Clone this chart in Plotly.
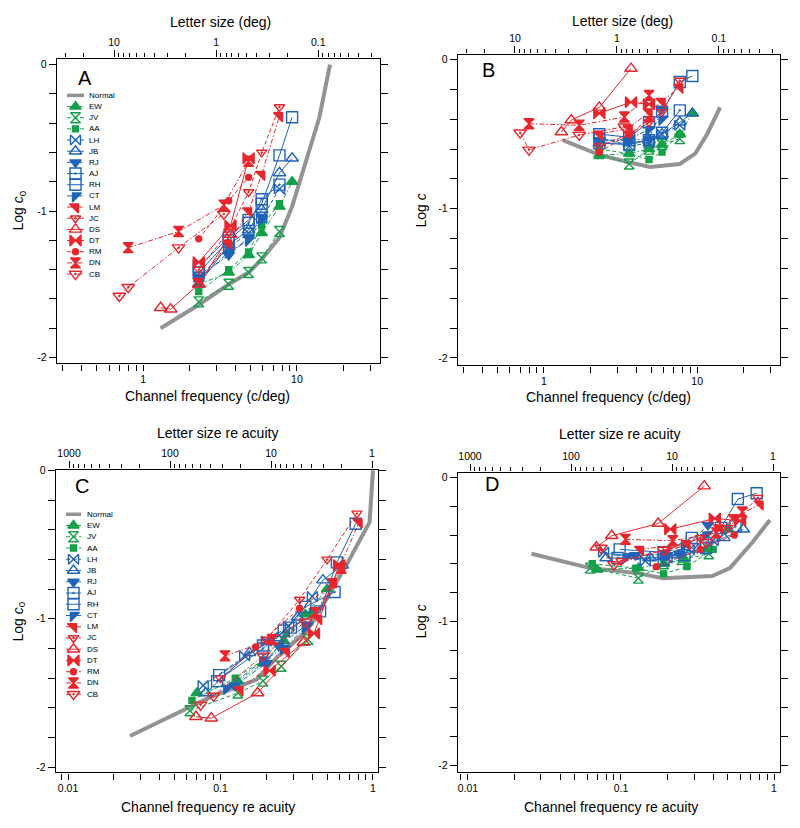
import plotly.graph_objects as go

# screenshot size and page margin (the html body keeps an 8 px margin)
SW, SH = 800, 828
OFF = 8
FW, FH = SW - 2 * OFF, SH - 2 * OFF

# ---------------- data ----------------
subjects = ["EW", "JV", "AA", "LH", "JB", "RJ", "AJ", "RH", "CT",
            "LM", "JC", "DS", "DT", "RM", "DN", "CB"]

normal_freq_A = [1.3, 2.3, 3.6, 4.85, 5.9, 7.7, 9.3, 11.5, 14.0, 16.4]
normal_logc0_A = [-1.80, -1.64, -1.50, -1.42, -1.33, -1.18, -0.97, -0.66, -0.36, 0.0]
normal_freq_B = [1.33, 2.32, 3.65, 4.93, 7.7, 9.7, 11.6, 14.1]
normal_logc_B = [-0.54, -0.64, -0.69, -0.72, -0.70, -0.63, -0.50, -0.32]
normal_rel_C = [0.0255, 0.085, 0.173, 0.234, 0.369, 0.522, 0.676, 0.82, 0.95, 1.0]
normal_logc0_C = [-1.79, -1.53, -1.41, -1.26, -1.08, -0.83, -0.63, -0.47, -0.35, 0.0]
normal_rel_D = [0.026, 0.063, 0.127, 0.188, 0.394, 0.515, 0.73, 0.94]
normal_logc_D = [-0.53, -0.63, -0.665, -0.70, -0.685, -0.63, -0.445, -0.295]

freq_EW = [2.3, 3.6, 4.85, 5.9, 7.7, 9.3]
rel_EW = [0.07, 0.13, 0.19, 0.26, 0.36, 0.50]
logc0_EW = [-1.50, -1.42, -1.30, -1.15, -0.97, -0.80]
logc_EW = [-0.64, -0.63, -0.60, -0.57, -0.50, -0.36]

freq_JV = [2.3, 3.6, 4.85, 5.9, 7.7]
rel_JV = [0.063, 0.13, 0.19, 0.25, 0.375]
logc0_JV = [-1.62, -1.50, -1.42, -1.32, -1.14]
logc_JV = [-0.63, -0.70, -0.60, -0.57, -0.53]

freq_AA = [2.3, 3.6, 4.85, 5.9, 7.7]
rel_AA = [0.065, 0.125, 0.19, 0.27, 0.40]
logc0_AA = [-1.55, -1.40, -1.28, -1.10, -0.95]
logc_AA = [-0.60, -0.63, -0.67, -0.62, -0.50]

freq_LH = [2.3, 3.6, 4.85, 5.9, 7.7]
rel_LH = [0.077, 0.144, 0.20, 0.28, 0.40]
logc0_LH = [-1.45, -1.25, -1.15, -1.05, -0.85]
logc_LH = [-0.52, -0.58, -0.56, -0.50, -0.44]

freq_JB = [2.3, 3.6, 4.85, 5.9, 7.7, 9.3]
rel_JB = [0.08, 0.155, 0.235, 0.32, 0.47, 0.63]
logc0_JB = [-1.50, -1.23, -1.13, -0.99, -0.74, -0.64]
logc_JB = [-0.56, -0.56, -0.54, -0.50, -0.42, -0.36]

freq_RJ = [2.3, 3.6, 4.85, 5.9]
rel_RJ = [0.124, 0.20, 0.24, 0.37]
logc0_RJ = [-1.45, -1.30, -1.18, -1.04]
logc_RJ = [-0.54, -0.54, -0.53, -0.33]

freq_AJ = [2.3, 3.6, 4.85, 5.9, 7.7]
rel_AJ = [0.095, 0.19, 0.26, 0.36, 0.56]
logc0_AJ = [-1.42, -1.20, -1.08, -0.92, -0.82]
logc_AJ = [-0.56, -0.57, -0.54, -0.49, -0.34]

freq_RH = [2.3, 3.6, 4.85, 5.9, 7.7, 9.3]
rel_RH = [0.098, 0.19, 0.29, 0.45, 0.58, 0.77]
logc0_RH = [-1.38, -1.18, -1.06, -0.95, -0.62, -0.36]
logc_RH = [-0.50, -0.52, -0.42, -0.35, -0.15, -0.11]

freq_CT = [2.3, 3.6, 4.85, 5.9]
rel_CT = [0.11, 0.19, 0.26, 0.36]
logc0_CT = [-1.47, -1.28, -1.20, -1.06]
logc_CT = [-0.55, -0.53, -0.47, -0.40]

freq_LM = [2.3, 3.6, 4.85, 5.9, 7.7]
rel_LM = [0.134, 0.27, 0.44, 0.55, 0.81]
logc0_LM = [-1.48, -1.22, -1.00, -0.75, -0.35]
logc_LM = [-0.50, -0.46, -0.35, -0.28, -0.185]

freq_JC = [2.3, 3.6, 4.85, 5.9, 7.7]
rel_JC = [0.10, 0.20, 0.33, 0.50, 0.785]
logc0_JC = [-1.40, -1.14, -0.87, -0.60, -0.29]
logc_JC = [-0.58, -0.50, -0.42, -0.35, -0.14]

freq_DS = [1.30, 1.51, 2.3, 3.7]
rel_DS = [0.069, 0.087, 0.175, 0.35]
logc0_DS = [-1.66, -1.67, -1.50, -1.16]
logc_DS = [-0.485, -0.405, -0.32, -0.06]

freq_DT = [2.3, 3.7, 4.85]
rel_DT = [0.21, 0.41, 0.60]
logc0_DT = [-1.35, -1.10, -0.64]
logc_DT = [-0.36, -0.285, -0.30]

freq_RM = [2.3, 3.6, 4.85]
rel_RM = [0.17, 0.33, 0.55]
logc0_RM = [-1.19, -0.93, -0.77]
logc_RM = [-0.62, -0.50, -0.40]

freq_DN = [0.80, 1.70, 3.35, 4.85]
rel_DN = [0.107, 0.218, 0.42, 0.62]
logc0_DN = [-1.25, -1.14, -0.96, -0.66]
logc_DN = [-0.43, -0.44, -0.385, -0.24]

freq_CB = [0.70, 0.80, 1.70, 3.35]
rel_CB = [0.074, 0.09, 0.19, 0.36]
logc0_CB = [-1.58, -1.52, -1.25, -1.02]
logc_CB = [-0.49, -0.605, -0.505, -0.45]

data = {
    "EW": (freq_EW, rel_EW, logc0_EW, logc_EW),
    "JV": (freq_JV, rel_JV, logc0_JV, logc_JV),
    "AA": (freq_AA, rel_AA, logc0_AA, logc_AA),
    "LH": (freq_LH, rel_LH, logc0_LH, logc_LH),
    "JB": (freq_JB, rel_JB, logc0_JB, logc_JB),
    "RJ": (freq_RJ, rel_RJ, logc0_RJ, logc_RJ),
    "AJ": (freq_AJ, rel_AJ, logc0_AJ, logc_AJ),
    "RH": (freq_RH, rel_RH, logc0_RH, logc_RH),
    "CT": (freq_CT, rel_CT, logc0_CT, logc_CT),
    "LM": (freq_LM, rel_LM, logc0_LM, logc_LM),
    "JC": (freq_JC, rel_JC, logc0_JC, logc_JC),
    "DS": (freq_DS, rel_DS, logc0_DS, logc_DS),
    "DT": (freq_DT, rel_DT, logc0_DT, logc_DT),
    "RM": (freq_RM, rel_RM, logc0_RM, logc_RM),
    "DN": (freq_DN, rel_DN, logc0_DN, logc_DN),
    "CB": (freq_CB, rel_CB, logc0_CB, logc_CB),
}

# tick labels
freq_ticks = [1, 10]
size_ticks = [10, 1, 0.1]
rel_ticks = [0.01, 0.1, 1]
rsize_ticks = [1000, 100, 10, 1]

# ---------------- styles ----------------
GREEN = "#14a04a"
BLUE = "#1f64b8"
RED = "#e8262d"
GRAY = "#939393"
DASH = "4px,2.5px"
DASHDOT = "5px,2px,1.5px,2px"

style = {
    "EW": dict(color=GREEN, symbol="triangle-up", size=10, dash=DASHDOT),
    "JV": dict(color=GREEN, symbol="hourglass-open", size=10, dash=DASH),
    "AA": dict(color=GREEN, symbol="square", size=6, dash=DASH),
    "LH": dict(color=BLUE, symbol="bowtie-open", size=10, dash=DASH),
    "JB": dict(color=BLUE, symbol="triangle-up-open", size=11, dash="solid"),
    "RJ": dict(color=BLUE, symbol="triangle-down", size=10, dash=DASHDOT),
    "AJ": dict(color=BLUE, symbol="square-open-dot", size=11, dash="solid"),
    "RH": dict(color=BLUE, symbol="square-open", size=11, dash="solid"),
    "CT": dict(color=BLUE, symbol="triangle-nw", size=10, dash=DASHDOT),
    "LM": dict(color=RED, symbol="triangle-ne", size=10, dash=DASHDOT),
    "JC": dict(color=RED, symbol="triangle-down-open-dot", size=9, dash=DASH),
    "DS": dict(color=RED, symbol="triangle-up-open", size=11, dash="solid"),
    "DT": dict(color=RED, symbol="bowtie", size=11, dash="solid"),
    "RM": dict(color=RED, symbol="circle", size=6, dash=DASH),
    "DN": dict(color=RED, symbol="hourglass", size=10, dash=DASHDOT),
    "CB": dict(color=RED, symbol="triangle-down-open-dot", size=11, dash=DASHDOT),
}

FONT = "Liberation Sans, Arial, Helvetica, sans-serif"


def px2fx(x):
    return (x - OFF) / FW


def px2fy(y):
    return 1 - (y - OFF) / FH


def xdom(l, r):
    return [px2fx(l), px2fx(r)]


def ydom(t, b):
    return [px2fy(b), px2fy(t)]


fig = go.Figure()

panels = [
    ("x", "y", 0, 2, normal_freq_A, normal_logc0_A),
    ("x2", "y2", 0, 3, normal_freq_B, normal_logc_B),
    ("x3", "y3", 1, 2, normal_rel_C, normal_logc0_C),
    ("x4", "y4", 1, 3, normal_rel_D, normal_logc_D),
]

for xa, ya, xi, yi, nx, ny in panels:
    fig.add_trace(go.Scatter(x=nx, y=ny, xaxis=xa, yaxis=ya, mode="lines",
                             line=dict(color=GRAY, width=4), showlegend=False,
                             hoverinfo="skip"))
    for s in subjects:
        st = style[s]
        d = data[s]
        fig.add_trace(go.Scatter(
            x=d[xi], y=d[yi], xaxis=xa, yaxis=ya, mode="lines+markers",
            name=s, showlegend=False,
            line=dict(color=st["color"], width=1, dash=st["dash"]),
            marker=dict(symbol=st["symbol"], size=st["size"], color=st["color"],
                        line=dict(color=st["color"], width=1.4)),
        ))

# ---------------- hand-drawn legends (pixel canvas) ----------------
legend_names = ["Normal"] + subjects
legend_specs = [
    dict(y0=90, dy=11.25, lx0=67, lx1=84, mx=75.5, tx=87),
    dict(y0=512, dy=11.33, lx0=66, lx1=81, mx=73.5, tx=85),
]
annotations = []
for spec in legend_specs:
    for i, nm in enumerate(legend_names):
        yy = spec["y0"] + i * spec["dy"]
        if nm == "Normal":
            fig.add_trace(go.Scatter(x=[spec["lx0"], spec["lx1"]], y=[yy, yy],
                                     xaxis="x9", yaxis="y9", mode="lines",
                                     line=dict(color=GRAY, width=3.5),
                                     showlegend=False, hoverinfo="skip"))
        else:
            st = style[nm]
            fig.add_trace(go.Scatter(x=[spec["lx0"], spec["lx1"]], y=[yy, yy],
                                     xaxis="x9", yaxis="y9", mode="lines",
                                     line=dict(color=st["color"], width=1, dash=st["dash"]),
                                     showlegend=False, hoverinfo="skip"))
            fig.add_trace(go.Scatter(x=[spec["mx"]], y=[yy],
                                     xaxis="x9", yaxis="y9", mode="markers",
                                     marker=dict(symbol=st["symbol"], size=st["size"],
                                                 color=st["color"],
                                                 line=dict(color=st["color"], width=1.4)),
                                     showlegend=False, hoverinfo="skip"))
        annotations.append(dict(x=px2fx(spec["tx"]), y=px2fy(yy), xref="paper", yref="paper",
                                text=nm, showarrow=False, xanchor="left", yanchor="middle",
                                font=dict(size=8, color="black", family=FONT)))

base = dict(showline=True, linecolor="black", linewidth=1.4, ticks="outside",
            tickcolor="black", tickwidth=1.3, showgrid=False, zeroline=False,
            tickfont=dict(size=10.5, color="black", family=FONT))


def logminor(decades, lo, hi):
    vals = []
    for dec in decades:
        for m in range(2, 10):
            v = m * dec
            if lo <= v <= hi:
                vals.append(round(v, 6))
    return vals


def fmt(v):
    return ("%g" % v)


def yaxis_cfg(domain, anchor, rng):
    cfg = dict(base)
    cfg.update(domain=domain, anchor=anchor, range=rng, tickmode="array",
               tickvals=[-2, -1, 0], ticktext=["-2", "-1", "0"], ticklen=7,
               mirror="allticks",
               minor=dict(tickmode="linear", tick0=0, dtick=0.2, ticklen=5,
                          ticks="outside", tickcolor="black", tickwidth=1.3))
    return cfg


def xbottom_cfg(domain, anchor, rng, majors, minors):
    cfg = dict(base)
    cfg.update(domain=domain, anchor=anchor, type="log", range=rng, tickmode="array",
               tickvals=majors + minors,
               ticktext=[fmt(v) for v in majors] + ["" for _ in minors], ticklen=6)
    return cfg


def xtop_cfg(overlay, anchor, rng, vals, labels, ticklen, show_labels=True):
    cfg = dict(base)
    cfg.update(overlaying=overlay, anchor=anchor, side="top", type="log", range=rng,
               tickmode="array", tickvals=vals, ticktext=labels, ticklen=ticklen,
               showticklabels=show_labels)
    return cfg


A_x, A_y = xdom(57, 380), ydom(53, 360)
B_x, B_y = xdom(458, 780), ydom(49, 362)
C_x, C_y = xdom(56, 378), ydom(467, 772)
D_x, D_y = xdom(458, 780), ydom(470, 772)

minor_freq = logminor([0.1, 1, 10], 0.28, 34)
minor_size = logminor([0.01, 0.1, 1, 10], 0.025, 36)
minor_rel = logminor([0.001, 0.01, 0.1], 0.0085, 1.05)
minor_rsize = logminor([1, 10, 100, 1000], 0.9, 1300)

rng_size_A = [1.559, -1.605]
rng_size_B = [1.559, -1.60]
rng_rsize_C = [3.129, -0.059]
rng_rsize_D = [3.119, -0.069]

layout = dict(
    width=FW, height=FH, margin=dict(l=0, r=0, t=0, b=0, pad=0), autosize=False,
    paper_bgcolor="white", plot_bgcolor="rgba(0,0,0,0)", showlegend=False,
    font=dict(family=FONT, color="black"),
    xaxis=xbottom_cfg(A_x, "y", [-0.56, 1.54], freq_ticks, minor_freq),
    yaxis=yaxis_cfg(A_y, "x", [-2.04, 0.04]),
    xaxis2=xbottom_cfg(B_x, "y2", [-0.56, 1.54], freq_ticks, minor_freq),
    yaxis2=yaxis_cfg(B_y, "x2", [-2.05, 0.033]),
    xaxis3=xbottom_cfg(C_x, "y3", [-2.079, 0.033], rel_ticks, minor_rel),
    yaxis3=yaxis_cfg(C_y, "x3", [-2.035, 0.005]),
    xaxis4=xbottom_cfg(D_x, "y4", [-2.065, 0.039], rel_ticks, minor_rel),
    yaxis4=yaxis_cfg(D_y, "x4", [-2.05, 0.034]),
    # top axes: major ticks with labels
    xaxis5=xtop_cfg("x", "y", rng_size_A, size_ticks, [fmt(v) for v in size_ticks], 7),
    xaxis6=xtop_cfg("x2", "y2", rng_size_B, size_ticks, [fmt(v) for v in size_ticks], 7),
    xaxis7=xtop_cfg("x3", "y3", rng_rsize_C, rsize_ticks, [fmt(v) for v in rsize_ticks], 7),
    xaxis8=xtop_cfg("x4", "y4", rng_rsize_D, rsize_ticks, [fmt(v) for v in rsize_ticks], 7),
    # top axes: short minor ticks
    xaxis10=xtop_cfg("x", "y", rng_size_A, minor_size, ["" for _ in minor_size], 4, False),
    xaxis11=xtop_cfg("x2", "y2", rng_size_B, minor_size, ["" for _ in minor_size], 4, False),
    xaxis12=xtop_cfg("x3", "y3", rng_rsize_C, minor_rsize, ["" for _ in minor_rsize], 4, False),
    xaxis13=xtop_cfg("x4", "y4", rng_rsize_D, minor_rsize, ["" for _ in minor_rsize], 4, False),
    xaxis9=dict(domain=[0, 1], range=[OFF, OFF + FW], visible=False, anchor="y9", fixedrange=True),
    yaxis9=dict(domain=[0, 1], range=[OFF + FH, OFF], visible=False, anchor="x9", fixedrange=True),
)
fig.update_layout(**layout)

# empty traces so that every top axis is drawn
for xa, ya in [("x5", "y"), ("x6", "y2"), ("x7", "y3"), ("x8", "y4"),
               ("x10", "y"), ("x11", "y2"), ("x12", "y3"), ("x13", "y4")]:
    fig.add_trace(go.Scatter(x=[None], y=[None], xaxis=xa, yaxis=ya, mode="markers",
                             showlegend=False, hoverinfo="skip"))


def label(x, y, text, size=14, angle=0):
    annotations.append(dict(x=px2fx(x), y=px2fy(y), xref="paper", yref="paper", text=text,
                            showarrow=False, xanchor="center", yanchor="middle",
                            textangle=angle, font=dict(size=size, color="black", family=FONT)))


label(207, 393, "Channel frequency (c/deg)")
label(608, 394, "Channel frequency (c/deg)")
label(208, 807, "Channel frequency re acuity")
label(611, 807, "Channel frequency re acuity")
label(220, 16, "Letter size (deg)")
label(622, 15, "Letter size (deg)")
label(217, 430, "Letter size re acuity")
label(619, 431, "Letter size re acuity")
label(19, 206, "Log <i>c</i><sub>0</sub>", angle=-90)
label(421, 206, "Log <i>c</i>", angle=-90)
label(19, 620, "Log <i>c</i><sub>0</sub>", angle=-90)
label(421, 620, "Log <i>c</i>", angle=-90)
label(85, 72, "A", size=20)
label(488, 64, "B", size=20)
label(82, 484, "C", size=20)
label(492, 482, "D", size=20)

fig.update_layout(annotations=annotations)

fig.write_html("out.html")
